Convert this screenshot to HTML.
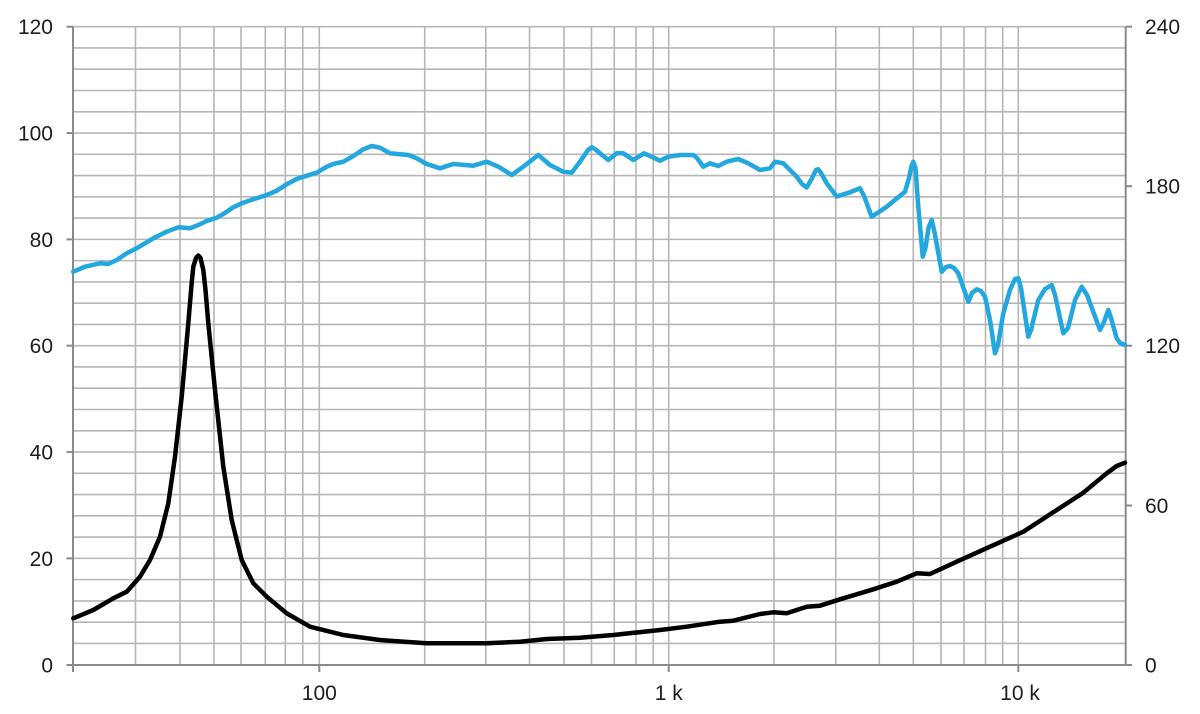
<!DOCTYPE html>
<html>
<head>
<meta charset="utf-8">
<style>
  html, body { margin:0; padding:0; background:#ffffff; }
  svg { display:block; }
  text { font-family: "Liberation Sans", Arial, sans-serif; font-size:21px; fill:#1e1e1e; }
</style>
</head>
<body>
<svg width="1200" height="714" viewBox="0 0 1200 714" xmlns="http://www.w3.org/2000/svg">
  <rect x="0" y="0" width="1200" height="714" fill="#ffffff"/>

  <g stroke="#b6b6b6" stroke-width="1.6">
    <line x1="73" y1="26.7" x2="1125.7" y2="26.7"/>
    <line x1="73" y1="47.97" x2="1125.7" y2="47.97"/>
    <line x1="73" y1="69.23" x2="1125.7" y2="69.23"/>
    <line x1="73" y1="90.5" x2="1125.7" y2="90.5"/>
    <line x1="73" y1="111.77" x2="1125.7" y2="111.77"/>
    <line x1="73" y1="133.03" x2="1125.7" y2="133.03"/>
    <line x1="73" y1="154.3" x2="1125.7" y2="154.3"/>
    <line x1="73" y1="175.57" x2="1125.7" y2="175.57"/>
    <line x1="73" y1="196.83" x2="1125.7" y2="196.83"/>
    <line x1="73" y1="218.1" x2="1125.7" y2="218.1"/>
    <line x1="73" y1="239.37" x2="1125.7" y2="239.37"/>
    <line x1="73" y1="260.63" x2="1125.7" y2="260.63"/>
    <line x1="73" y1="281.9" x2="1125.7" y2="281.9"/>
    <line x1="73" y1="303.17" x2="1125.7" y2="303.17"/>
    <line x1="73" y1="324.43" x2="1125.7" y2="324.43"/>
    <line x1="73" y1="345.7" x2="1125.7" y2="345.7"/>
    <line x1="73" y1="366.97" x2="1125.7" y2="366.97"/>
    <line x1="73" y1="388.23" x2="1125.7" y2="388.23"/>
    <line x1="73" y1="409.5" x2="1125.7" y2="409.5"/>
    <line x1="73" y1="430.77" x2="1125.7" y2="430.77"/>
    <line x1="73" y1="452.03" x2="1125.7" y2="452.03"/>
    <line x1="73" y1="473.3" x2="1125.7" y2="473.3"/>
    <line x1="73" y1="494.57" x2="1125.7" y2="494.57"/>
    <line x1="73" y1="515.83" x2="1125.7" y2="515.83"/>
    <line x1="73" y1="537.1" x2="1125.7" y2="537.1"/>
    <line x1="73" y1="558.37" x2="1125.7" y2="558.37"/>
    <line x1="73" y1="579.63" x2="1125.7" y2="579.63"/>
    <line x1="73" y1="600.9" x2="1125.7" y2="600.9"/>
    <line x1="73" y1="622.17" x2="1125.7" y2="622.17"/>
    <line x1="73" y1="643.43" x2="1125.7" y2="643.43"/>
  </g>

  <g stroke="#b6b6b6" stroke-width="1.6">
    <line x1="135.5" y1="26.7" x2="135.5" y2="665"/>
    <line x1="180" y1="26.7" x2="180" y2="665"/>
    <line x1="214" y1="26.7" x2="214" y2="665"/>
    <line x1="241" y1="26.7" x2="241" y2="665"/>
    <line x1="265.3" y1="26.7" x2="265.3" y2="665"/>
    <line x1="285.3" y1="26.7" x2="285.3" y2="665"/>
    <line x1="302.8" y1="26.7" x2="302.8" y2="665"/>
    <line x1="319.3" y1="26.7" x2="319.3" y2="665"/>
    <line x1="424.7" y1="26.7" x2="424.7" y2="665"/>
    <line x1="485.8" y1="26.7" x2="485.8" y2="665"/>
    <line x1="529.5" y1="26.7" x2="529.5" y2="665"/>
    <line x1="564" y1="26.7" x2="564" y2="665"/>
    <line x1="591.5" y1="26.7" x2="591.5" y2="665"/>
    <line x1="614.3" y1="26.7" x2="614.3" y2="665"/>
    <line x1="636" y1="26.7" x2="636" y2="665"/>
    <line x1="653.2" y1="26.7" x2="653.2" y2="665"/>
    <line x1="668.7" y1="26.7" x2="668.7" y2="665"/>
    <line x1="774" y1="26.7" x2="774" y2="665"/>
    <line x1="835.7" y1="26.7" x2="835.7" y2="665"/>
    <line x1="879.3" y1="26.7" x2="879.3" y2="665"/>
    <line x1="913.3" y1="26.7" x2="913.3" y2="665"/>
    <line x1="941" y1="26.7" x2="941" y2="665"/>
    <line x1="964" y1="26.7" x2="964" y2="665"/>
    <line x1="985.5" y1="26.7" x2="985.5" y2="665"/>
    <line x1="1002.7" y1="26.7" x2="1002.7" y2="665"/>
    <line x1="1018.3" y1="26.7" x2="1018.3" y2="665"/>
  </g>

  <g stroke="#8a8a8a" stroke-width="2" fill="none">
    <line x1="73" y1="26.7" x2="73" y2="672"/>
    <line x1="1125.7" y1="26.7" x2="1125.7" y2="665"/>
    <line x1="73" y1="665" x2="1132" y2="665"/>
    <line x1="66.5" y1="26.7" x2="73" y2="26.7"/>
    <line x1="66.5" y1="133.03" x2="73" y2="133.03"/>
    <line x1="66.5" y1="239.37" x2="73" y2="239.37"/>
    <line x1="66.5" y1="345.7" x2="73" y2="345.7"/>
    <line x1="66.5" y1="452.03" x2="73" y2="452.03"/>
    <line x1="66.5" y1="558.37" x2="73" y2="558.37"/>
    <line x1="66.5" y1="665" x2="73" y2="665"/>
    <line x1="1125.7" y1="26.7" x2="1132" y2="26.7"/>
    <line x1="1125.7" y1="186.2" x2="1132" y2="186.2"/>
    <line x1="1125.7" y1="345.7" x2="1132" y2="345.7"/>
    <line x1="1125.7" y1="505.5" x2="1132" y2="505.5"/>
    <line x1="319.3" y1="665" x2="319.3" y2="672"/>
    <line x1="668.7" y1="665" x2="668.7" y2="672"/>
    <line x1="1018.3" y1="665" x2="1018.3" y2="672"/>
  </g>

  <g text-anchor="end">
    <text x="53" y="34.2">120</text>
    <text x="53" y="140.5">100</text>
    <text x="53" y="246.9">80</text>
    <text x="53" y="353.2">60</text>
    <text x="53" y="459.5">40</text>
    <text x="53" y="565.9">20</text>
    <text x="53" y="672.5">0</text>
  </g>
  <g text-anchor="start">
    <text x="1145" y="34.2">240</text>
    <text x="1145" y="193.7">180</text>
    <text x="1145" y="353.2">120</text>
    <text x="1145" y="513">60</text>
    <text x="1145" y="672.5">0</text>
  </g>
  <g text-anchor="middle">
    <text x="319.3" y="700">100</text>
    <text x="668.7" y="700">1 k</text>
    <text x="1020" y="700">10 k</text>
  </g>

  <polyline fill="none" stroke="#000000" stroke-width="4.5" stroke-linejoin="round" stroke-linecap="round" points="
73.3,618.3 93.3,610 113.3,598.3 126.7,591.7 140,576.7 150,560 160,536.7 168.3,503.3 175,456.7 181.7,396.7 188.3,323.3 191.5,285 193.3,266.7 196,258 198.3,255.5 200.5,258 203.3,270 205.5,290 208.3,323.3 215,390 223.3,466.7 231.7,520 241.7,560 253.3,583.3 266.7,596.7 286.7,613.3 310,626.7 343.3,635 380,640 393.3,641 426.7,643.3 486.7,643.3 520,641.7 546.7,639 580,637.7 613.3,635 660,630 686.7,626.7 720,621.7 733.3,620.7 760,614 773.3,612.3 786.7,613.3 806.7,606.7 820,605.7 840,599.3 873.3,589.3 896.7,581.7 916.7,573.3 930,574 956.7,561.7 990,546.7 1023.3,531.7 1056.7,510 1083.3,492.7 1106.7,473.3 1116.7,466 1125,462.7"/>

  <polyline fill="none" stroke="#22a7df" stroke-width="4.5" stroke-linejoin="round" stroke-linecap="round" points="
73.3,271.7 85,266.7 100,263.3 108.3,264 116.7,260 126.7,253.3 136.7,248.3 153.3,238.3 166.7,231.7 178.3,227.3 190,228.3 198.3,225 206.7,221 216.7,217.7 223.3,214 233.3,207.3 241.7,203.3 253.3,199.3 266.7,195 276.7,190.7 286.7,184.3 296.7,179 306.7,175.7 316.7,172.7 326.7,166.7 333.3,164 343.3,161.7 353.3,156 363.3,149.3 371.7,146 380,147.7 390,153.3 400,154.3 408.3,155 416.7,158.3 426.7,164 440,168.3 453.3,164 473.3,165.7 486.7,161.7 498.3,166.7 511.7,175 523.3,166.7 538.3,155 550,165 563.3,171.7 571.7,172.7 580,161.7 588,150 591.7,147.3 595,149 600,153.3 608.3,160 616.7,153.3 623.3,153.3 633.3,160 644,153.3 651.7,156.7 660,160.7 668.3,156.7 680,155 693.3,155 697,158 703.3,166.7 710,163.3 718.3,166 726.7,161.7 738.3,159 748.3,163.3 760,170 770,168.3 775,161.7 783.3,163.3 796.7,176.7 802,184 806.7,187.5 811,180 816,170 818.3,169.3 821,173 826.7,183.3 836.7,196.5 850,192.3 858,189 860,188.3 864,196 871.7,216.7 886.7,206.7 905,191.7 909,178 911.5,166 913.3,161.7 915.5,168 918.3,206.7 922.7,256.7 925.5,248 928.5,228 931.7,220 934.5,232 941.7,271.7 946,267 950,266 954,268 958.3,273.3 968.3,301.7 972,293 976.7,289.3 981,291 985,296.7 990,320 995,353.3 998,345 1003.3,313.3 1010,290 1015,279 1018.3,278.3 1021,288 1028.3,336.7 1031,330 1038.3,300 1045,289 1051.7,285 1055,295 1063.3,333.3 1068,328 1075,300 1081.7,286.7 1087,295 1100,330 1104,322 1108.3,310 1111,318 1116.7,338.3 1120,343 1125,345"/>
</svg>
</body>
</html>
